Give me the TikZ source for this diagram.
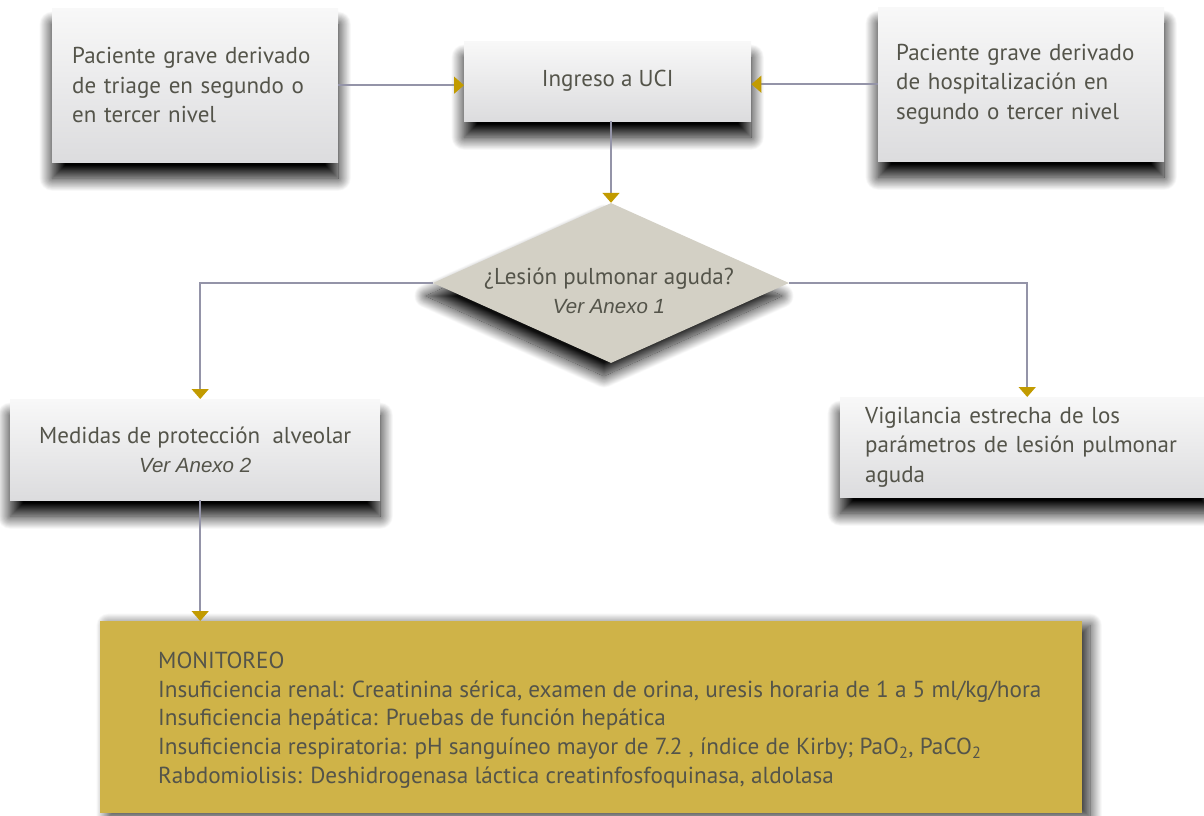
\documentclass[tikz,border=0pt]{standalone}
\usepackage{fontspec}
\setmainfont{PT Sans}
\newfontfamily\arialfont{Liberation Sans}
\newcommand\annexfont{\arialfont\itshape\fontsize{20.5}{28}\selectfont}
\usetikzlibrary{arrows.meta,shapes.geometric,shadows.blur,calc}

\definecolor{txt}{HTML}{54544A}
\definecolor{boxtop}{HTML}{F8F8F8}
\definecolor{boxbot}{HTML}{DCDCDE}
\definecolor{decfill}{HTML}{D3D0C5}
\definecolor{monfill}{HTML}{CFB348}
\definecolor{linec}{HTML}{9494A8}
\definecolor{arrowc}{HTML}{C29B00}

\tikzset{
  boxfont/.style={font=\fontsize{23}{29.5}\selectfont},
  flowbox/.style={top color=boxtop, bottom color=boxbot, text=txt, boxfont,
    inner ysep=0pt,
    blur shadow={shadow xshift=0pt, shadow yshift=-16pt,
      shadow blur radius=13pt, shadow blur steps=30, shadow opacity=100}},
  decision/.style={diamond, fill=decfill, inner sep=0pt,
    blur shadow={shadow xshift=-7pt, shadow yshift=-13pt,
      shadow blur radius=12pt, shadow blur steps=30, shadow opacity=95}},
  monbox/.style={fill=monfill, inner sep=0pt,
    blur shadow={shadow xshift=8pt, shadow yshift=-4pt,
      shadow blur radius=12pt, shadow blur steps=30, shadow opacity=85}},
  conn/.style={draw=linec, line width=1.6pt,
    -{Triangle[width=17pt,length=10pt,color=arrowc]}}
}

\begin{document}
\begin{tikzpicture}[x=1pt,y=-1pt]
\useasboundingbox (0,0) rectangle (1204,815);

% boxes of the top row
\node[flowbox, anchor=north west, inner xsep=20pt, text width=246pt,
      minimum height=154pt, align=left] (src1) at (52,8)
  {Paciente grave derivado\\de triage en segundo o\\en tercer nivel};
\node[flowbox, anchor=north west, minimum width=287pt, minimum height=80pt]
  (uci) at (464,41) {Ingreso a UCI};
\node[flowbox, anchor=north west, inner xsep=18pt, text width=250pt,
      minimum height=154pt, align=left] (src2) at (878,7)
  {Paciente grave derivado\\de hospitalización en\\segundo o tercer nivel};

% decision
\node[decision, minimum width=356pt, minimum height=160pt] (dec) at (611,283) {};
\node[text=txt, boxfont, align=center, inner sep=0pt] (dectext) at (609,291)
  {¿Lesión pulmonar aguda?\\{\annexfont Ver Anexo 1}};

% second row
\node[flowbox, anchor=north west, minimum width=370pt, minimum height=101pt,
      align=center] (prot) at (10,399)
  {Medidas de protección\ \ alveolar\\{\annexfont Ver Anexo 2}};
\node[flowbox, anchor=north west, inner xsep=25pt, text width=324pt,
      minimum height=100pt, align=left] (vig) at (840,397)
  {Vigilancia estrecha de los\\parámetros de lesión pulmonar\\aguda};

% monitoring box
\node[monbox, anchor=north west, minimum width=982pt, minimum height=192pt]
  (mon) at (100,621) {};
\node[anchor=west, align=left, text=txt, inner sep=0pt,
      font=\fontsize{23.2}{28.7}\selectfont] (montext) at (158,720)
  {MONITOREO\\
   Insuficiencia renal: Creatinina sérica, examen de orina, uresis horaria de 1 a 5 ml/kg/hora\\
   Insuficiencia hepática: Pruebas de función hepática\\
   Insuficiencia respiratoria: pH sanguíneo mayor de 7.2 , índice de Kirby; PaO\textsubscript{2}, PaCO\textsubscript{2}\\
   Rabdomiolisis: Deshidrogenasa láctica creatinfosfoquinasa, aldolasa};

% connectors
\draw[conn] (src1.east) -- (src1.east -| uci.west);
\draw[conn] (src2.west) -- (src2.west -| uci.east);
\draw[conn] (uci.south -| dec.north) -- (dec.north);
\coordinate (pl) at ($(prot.north)+(5,0)$);
\draw[conn] (dec.west) -| (pl);
\draw[conn] (dec.east) -| (vig.north);
\coordinate (pb) at ($(prot.south)+(5,0)$);
\draw[conn] (pb) -- (pb |- mon.north);
\end{tikzpicture}
\end{document}
